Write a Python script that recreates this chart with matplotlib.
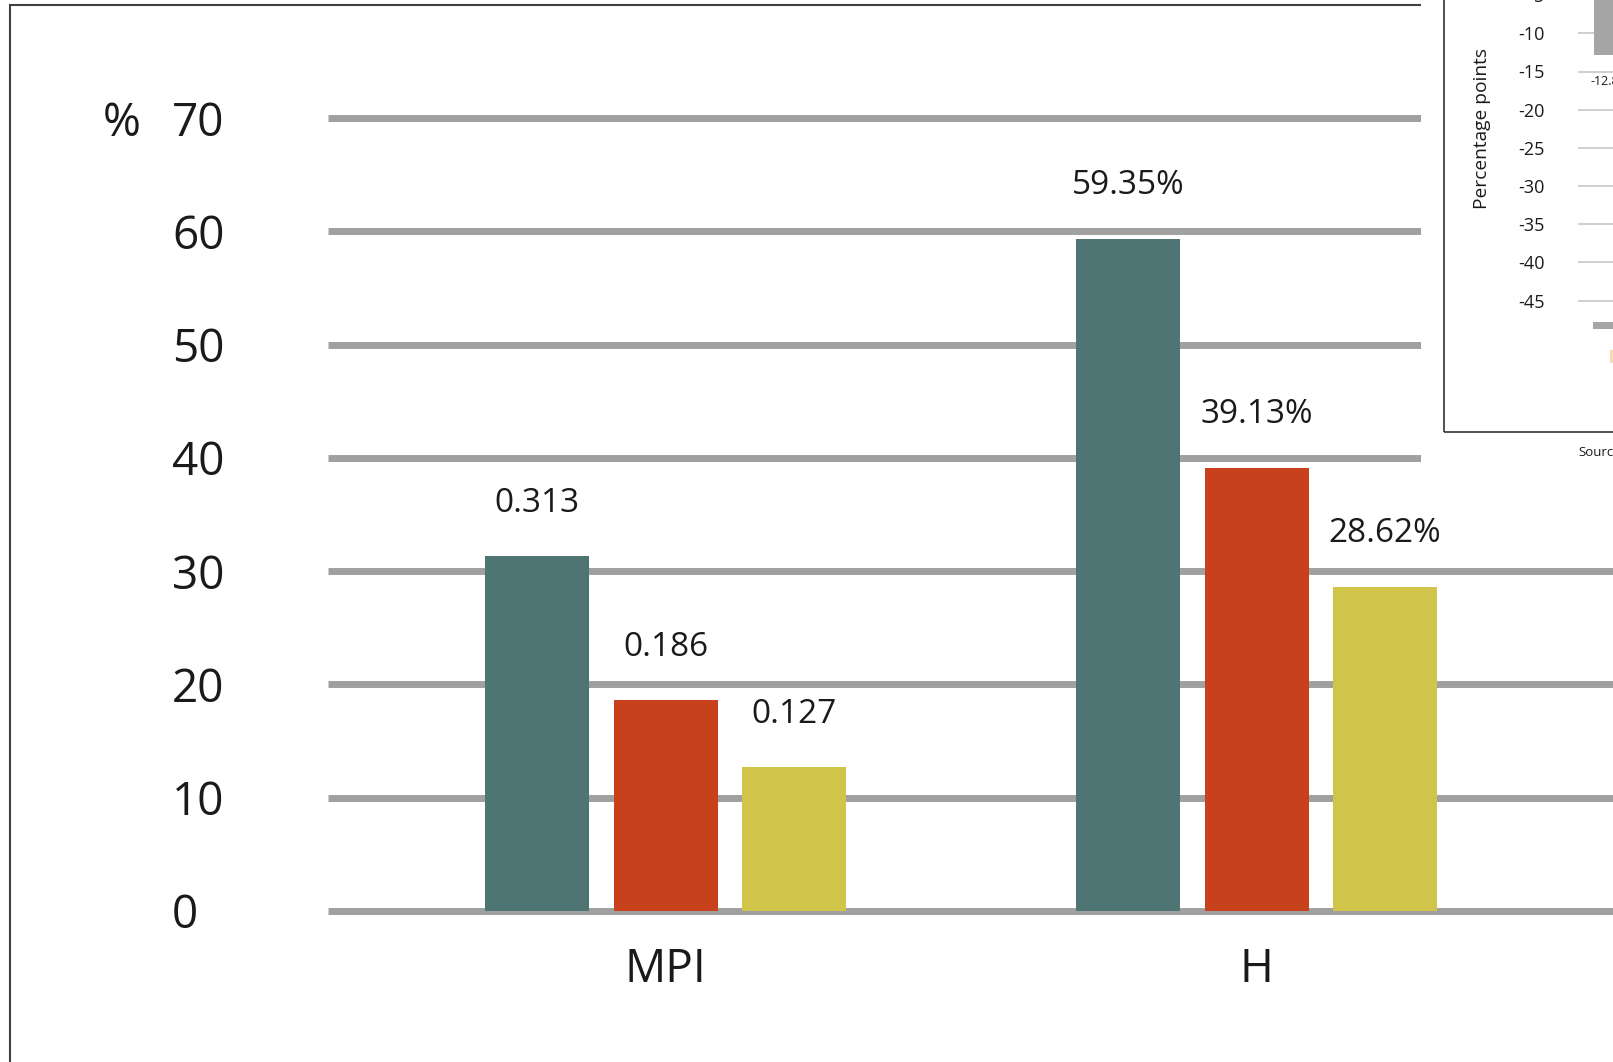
import matplotlib.pyplot as plt
import matplotlib.transforms as mtransforms
from matplotlib.patches import Rectangle

plt.rcParams['font.family'] = ['Open Sans', 'DejaVu Sans']
plt.rcParams['axes.unicode_minus'] = False

# main chart data
categories = ['MPI', 'H']
series_colors = ['#4E7474', '#C8411D', '#D0C44A']
mpi_values = [0.313, 0.186, 0.127]   # index values, drawn on the % scale
h_values = [59.35, 39.13, 28.62]     # headcount ratios (%)
y_ticks = [0, 10, 20, 30, 40, 50, 60, 70]

# small panel on the right
inset_values = [-12.8]
inset_ticks = [-5, -10, -15, -20, -25, -30, -35, -40, -45]

W, H, DPI = 1613, 1062, 100
TEXT = '#1A1A1A'


def fx(px):
    return px / W


def fy(py):
    return 1 - py / H


fig = plt.figure(figsize=(W / DPI, H / DPI), dpi=DPI)
fig.patch.set_facecolor('white')

# --- main axes: 0 sits at y=911px, 70 at y=118px
ppu = (911 - 118) / 70
left_px, right_px = 327.7, 1613
top_px, bottom_px = 118 - 3 * ppu, 911 + 3 * ppu
ax = fig.add_axes([fx(left_px), fy(bottom_px), fx(right_px) - fx(left_px), fy(top_px) - fy(bottom_px)])
ax.set_ylim(-3, 73)

group_step = 591.1
ax.set_xlim((left_px - 665.5) / group_step, (right_px - 665.5) / group_step)
bar_w = 104 / group_step
offset = 128.5 / group_step

for i, color in enumerate(series_colors):
    heights = [mpi_values[i] * 100, h_values[i]]
    labels = [f'{mpi_values[i]:.3f}', f'{h_values[i]:.2f}%']
    xs = [g + (i - 1) * offset for g in range(len(categories))]
    ax.bar(xs, heights, width=bar_w, color=color, zorder=2)
    for x, h, lab in zip(xs, heights, labels):
        ax.annotate(lab, xy=(x, h), xytext=(0, 32), textcoords='offset points',
                    ha='center', va='baseline', fontsize=24, color=TEXT)

for g, cat in enumerate(categories):
    ax.annotate(cat, xy=(g, 0), xytext=(0, -51), textcoords='offset points',
                ha='center', va='baseline', fontsize=33, color=TEXT)

ax.set_yticks(y_ticks)
ax.set_xticks([])
ax.tick_params(axis='y', length=0, pad=112, labelsize=33, labelcolor=TEXT)
plt.setp(ax.get_yticklabels(), ha='left')
ax.yaxis.grid(True, color='#A0A0A0', lw=5, solid_capstyle='butt')
ax.set_axisbelow(True)
for s in ax.spines.values():
    s.set_visible(False)

pct = mtransforms.blended_transform_factory(fig.transFigure, ax.transData)
ax.text(fx(103), 70, '%', transform=pct, ha='left', va='center_baseline',
        fontsize=33, color=TEXT)

# outer border
fig.add_artist(Rectangle((fx(9.5), fy(1200)), fx(2000) - fx(9.5), fy(4.7) - fy(1200),
                         transform=fig.transFigure, fill=False, ec='#404040', lw=1.5, zorder=1))

# --- panel on the right, laid over the main chart
fig.add_artist(Rectangle((fx(1421), fy(500)), fx(1800) - fx(1421), fy(-20) - fy(500),
                         transform=fig.transFigure, fc='white', ec='none', zorder=2))
fig.add_artist(Rectangle((fx(1444), fy(432)), fx(1800) - fx(1444), fy(-20) - fy(432),
                         transform=fig.transFigure, fill=False, ec='#333333', lw=1.2, zorder=3))

in_top, in_bottom, in_ppu = -43.1, 310, 7.64
in_left, in_right, in_xppu = 1577.7, 1900, 35
ax_in = fig.add_axes([fx(in_left), fy(in_bottom), fx(in_right) - fx(in_left), fy(in_top) - fy(in_bottom)],
                     zorder=4)
ax_in.patch.set_alpha(0)
ax_in.set_ylim(-(in_bottom - in_top) / in_ppu, 0)
ax_in.set_xlim(-0.766, -0.766 + (in_right - in_left) / in_xppu)
ax_in.bar(range(len(inset_values)), inset_values, width=0.6, color='#A5A5A5', zorder=2)
for x, v in enumerate(inset_values):
    ax_in.annotate(f'{v:.1f}', xy=(x, v), xytext=(0, -19), textcoords='offset points',
                   ha='center', va='center', fontsize=9, color=TEXT)
ax_in.set_yticks(inset_ticks)
ax_in.set_xticks([])
ax_in.tick_params(axis='y', length=0, pad=24, labelsize=13, labelcolor=TEXT)
ax_in.yaxis.grid(True, color='#CFCFCF', lw=1.4)
ax_in.set_axisbelow(True)
for s in ax_in.spines.values():
    s.set_visible(False)
ax_in.text(-0.297, 0.515, 'Percentage points', transform=ax_in.transAxes, rotation=90,
           ha='center', va='center', fontsize=13.8, color=TEXT)

# legend keys of the panel
fig.add_artist(Rectangle((fx(1593), fy(328.5)), fx(1700) - fx(1593), fy(321.5) - fy(328.5),
                         transform=fig.transFigure, fc='#A5A5A5', ec='none', zorder=5))
fig.add_artist(Rectangle((fx(1610), fy(363)), fx(1622) - fx(1610), fy(350) - fy(363),
                         transform=fig.transFigure, fc='#F6DCAE', ec='none', zorder=5))
fig.text(fx(1578), fy(453), 'Source:', ha='left', va='center', fontsize=9.5, color=TEXT, zorder=5)

fig.savefig('out.png', dpi=DPI)
